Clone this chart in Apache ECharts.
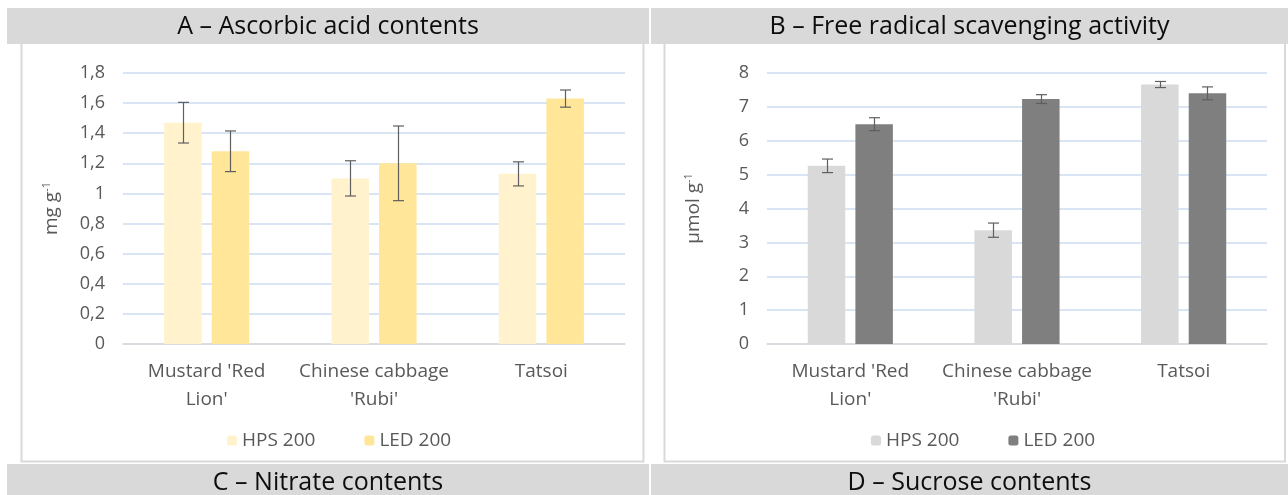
<!DOCTYPE html>
<html>
<head>
<meta charset="utf-8">
<script src="https://cdn.jsdelivr.net/npm/echarts@6/dist/echarts.min.js"></script>
<style>
html,body{margin:0;padding:0;background:#fff;}
#c{width:1288px;height:495px;}
</style>
</head>
<body>
<div id="c"></div>
<script>
// ---- data ----
var categories = ["Mustard 'Red\nLion'", "Chinese cabbage\n'Rubi'", "Tatsoi"];
var seriesNames = ['HPS 200', 'LED 200'];
var panelTitles = ['A \u2013 Ascorbic acid contents', 'B \u2013 Free radical scavenging activity', 'C \u2013 Nitrate contents', 'D \u2013 Sucrose contents'];

var ascorbicHPS = [1.47, 1.10, 1.13];
var ascorbicLED = [1.28, 1.20, 1.63];
var ascorbicErrHPS = [0.135, 0.117, 0.08];
var ascorbicErrLED = [0.135, 0.248, 0.057];

var scavHPS = [5.26, 3.36, 7.66];
var scavLED = [6.49, 7.23, 7.40];
var scavErrHPS = [0.20, 0.21, 0.09];
var scavErrLED = [0.19, 0.13, 0.19];

var yTicksA = ['0', '0,2', '0,4', '0,6', '0,8', '1', '1,2', '1,4', '1,6', '1,8'];
var yTicksB = ['0', '1', '2', '3', '4', '5', '6', '7', '8'];

// ---- styling ----
var FONT = 'Open Sans';
var LABEL = '#595959';
var BAR_W = 37.5;
var GAP_PCT = 0.27;

function errData(vals, errs) {
  return vals.map(function (v, i) { return [i, v, errs[i]]; });
}
function errRender(sign) {
  return function (params, api) {
    var v = api.value(1), e = api.value(2), idx = api.value(0);
    var hi = api.coord([idx, v + e]);
    var lo = api.coord([idx, v - e]);
    var off = sign * (BAR_W + BAR_W * GAP_PCT) / 2;
    var cx = Math.round(hi[0] + off) + 0.5;
    var cap = 5.5;
    var st = { stroke: '#5f5f5f', lineWidth: 1.2 };
    return {
      type: 'group',
      children: [
        { type: 'line', shape: { x1: cx, y1: hi[1], x2: cx, y2: lo[1] }, style: st },
        { type: 'line', shape: { x1: cx - cap, y1: hi[1], x2: cx + cap, y2: hi[1] }, style: st },
        { type: 'line', shape: { x1: cx - cap, y1: lo[1], x2: cx + cap, y2: lo[1] }, style: st }
      ]
    };
  };
}

function xAxisOpt(gi) {
  return {
    type: 'category', gridIndex: gi, data: categories,
    axisLine: { lineStyle: { color: '#d9d9d9', width: 1.5 } },
    axisTick: { show: false },
    axisLabel: { color: LABEL, fontFamily: FONT, fontSize: 19, lineHeight: 28, margin: 14, interval: 0 }
  };
}
function yAxisOpt(gi, max, interval, ticks, name, gap) {
  return {
    type: 'value', gridIndex: gi, min: 0, max: max, interval: interval,
    axisLine: { show: false }, axisTick: { show: false },
    axisLabel: {
      color: LABEL, fontFamily: FONT, fontSize: 18, margin: 18,
      formatter: function (v) { return ticks[Math.round(v / interval)]; }
    },
    splitLine: { lineStyle: { color: '#cddcf0', width: 1.5 } },
    name: name, nameLocation: 'middle', nameGap: gap, nameRotate: 90,
    nameTextStyle: {
      color: LABEL, fontFamily: FONT, fontSize: 19,
      rich: { sup: { fontSize: 11, fontFamily: FONT, color: LABEL, verticalAlign: 'top', padding: [0, 0, 11, 0] } }
    }
  };
}

var titleBars = [
  { x: 7, y: 8, w: 642, h: 36, t: panelTitles[0] },
  { x: 651, y: 8, w: 637, h: 36, t: panelTitles[1] },
  { x: 7, y: 464, w: 642, h: 36, t: panelTitles[2] },
  { x: 651, y: 464, w: 637, h: 36, t: panelTitles[3] }
];
var graphics = [
  { type: 'rect', z: 0, shape: { x: 21.5, y: 36, width: 622, height: 425.5 }, style: { fill: 'none', stroke: '#d9d9d9', lineWidth: 2 } },
  { type: 'rect', z: 0, shape: { x: 664.5, y: 36, width: 620.5, height: 425.5 }, style: { fill: 'none', stroke: '#d9d9d9', lineWidth: 2 } }
];
titleBars.forEach(function (b) {
  graphics.push({ type: 'rect', z: 1, shape: { x: b.x, y: b.y, width: b.w, height: b.h }, style: { fill: '#d9d9d9' } });
  graphics.push({ type: 'text', z: 2, x: b.x + b.w / 2, y: b.y + 19,
    style: { text: b.t, fill: '#0d0d0d', font: '25px "' + FONT + '"', align: 'center', verticalAlign: 'middle' } });
});

var chart = echarts.init(document.getElementById('c'), null, { renderer: 'canvas' });
chart.setOption({
  animation: false,
  backgroundColor: '#ffffff',
  graphic: graphics,
  grid: [
    { left: 123, right: 663, top: 73, bottom: 151 },
    { left: 767, right: 21, top: 73, bottom: 151 }
  ],
  legend: [
    { left: 222, top: 426, itemWidth: 10, itemHeight: 10, itemGap: 49,
      textStyle: { color: LABEL, fontFamily: FONT, fontSize: 19 },
      data: [{ name: seriesNames[0], itemStyle: { color: '#fff2cc' } }, { name: seriesNames[1], itemStyle: { color: '#ffe699' } }] },
    { left: 866, top: 426, itemWidth: 10, itemHeight: 10, itemGap: 49,
      textStyle: { color: LABEL, fontFamily: FONT, fontSize: 19 },
      data: [{ name: seriesNames[0], itemStyle: { color: '#d9d9d9' } }, { name: seriesNames[1], itemStyle: { color: '#7f7f7f' } }] }
  ],
  xAxis: [xAxisOpt(0), xAxisOpt(1)],
  yAxis: [
    yAxisOpt(0, 1.8, 0.2, yTicksA, 'mg g{sup|-1}', 60),
    yAxisOpt(1, 8, 1, yTicksB, '\u00b5mol g{sup|-1}', 62)
  ],
  series: [
    { name: seriesNames[0], type: 'bar', xAxisIndex: 0, yAxisIndex: 0, data: ascorbicHPS, barWidth: BAR_W, barGap: '27%', itemStyle: { color: '#fff2cc' } },
    { name: seriesNames[1], type: 'bar', xAxisIndex: 0, yAxisIndex: 0, data: ascorbicLED, barWidth: BAR_W, barGap: '27%', itemStyle: { color: '#ffe699' } },
    { name: seriesNames[0], type: 'bar', xAxisIndex: 1, yAxisIndex: 1, data: scavHPS, barWidth: BAR_W, barGap: '27%', itemStyle: { color: '#d9d9d9' } },
    { name: seriesNames[1], type: 'bar', xAxisIndex: 1, yAxisIndex: 1, data: scavLED, barWidth: BAR_W, barGap: '27%', itemStyle: { color: '#7f7f7f' } },
    { type: 'custom', xAxisIndex: 0, yAxisIndex: 0, renderItem: errRender(-1), data: errData(ascorbicHPS, ascorbicErrHPS), z: 5 },
    { type: 'custom', xAxisIndex: 0, yAxisIndex: 0, renderItem: errRender(1), data: errData(ascorbicLED, ascorbicErrLED), z: 5 },
    { type: 'custom', xAxisIndex: 1, yAxisIndex: 1, renderItem: errRender(-1), data: errData(scavHPS, scavErrHPS), z: 5 },
    { type: 'custom', xAxisIndex: 1, yAxisIndex: 1, renderItem: errRender(1), data: errData(scavLED, scavErrLED), z: 5 }
  ]
});
</script>
</body>
</html>
